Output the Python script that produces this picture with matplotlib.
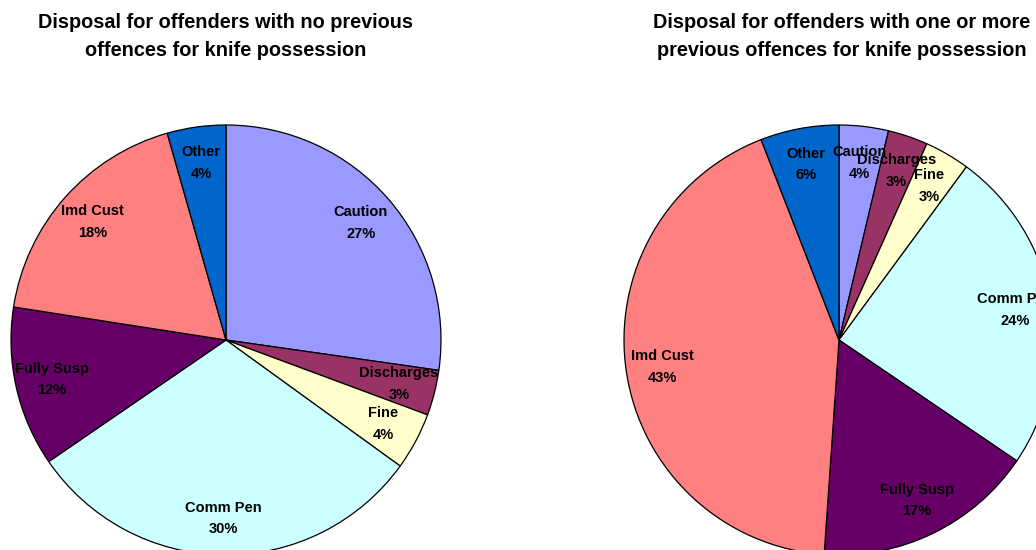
import matplotlib
matplotlib.use("Agg")
import matplotlib.pyplot as plt

plt.rcParams['font.family'] = ['Liberation Sans', 'DejaVu Sans']

categories = ["Caution", "Discharges", "Fine", "Comm Pen", "Fully Susp", "Imd Cust", "Other"]
no_prev = [27.2, 3.4, 4.3, 30.4, 12.0, 18.1, 4.4]
with_prev = [3.7, 3.0, 3.4, 24.4, 16.6, 43.0, 5.9]
titles = ["Disposal for offenders with no previous\noffences for knife possession",
          "Disposal for offenders with one or more\nprevious offences for knife possession"]
colors = ["#9999FF", "#993366", "#FFFFCC", "#CCFFFF", "#660066", "#FF8080", "#0066CC"]

W, H = 1036, 550
fig = plt.figure(figsize=(W / 100, H / 100), dpi=100)
fig.patch.set_facecolor("white")

R = 215
centers = [(226, 340), (839, 340)]
title_x = [226, 842]


def make_pct(names):
    it = iter(names)
    return lambda p: f"{next(it)}\n{p:.0f}%"


for (cx, cy), vals, title, tx in zip(centers, [no_prev, with_prev], titles, title_x):
    ax = fig.add_axes([(cx - R) / W, (H - cy - R) / H, 2 * R / W, 2 * R / H])
    wedges, texts, autotexts = ax.pie(
        vals, colors=colors, startangle=90, counterclock=False,
        autopct=make_pct(categories), pctdistance=0.83,
        wedgeprops=dict(edgecolor="black", linewidth=0.9),
        textprops=dict(fontsize=10.5, fontweight="bold", color="black", linespacing=1.7))
    ax.set_xlim(-1, 1)
    ax.set_ylim(-1, 1)
    ax.set_aspect("equal")
    ax.axis("off")
    fig.text(tx / W, 1 - 36 / H, title, ha="center", va="center",
             fontsize=14.3, fontweight="bold", linespacing=1.6)

fig.savefig("out.png", dpi=100, facecolor="white")
